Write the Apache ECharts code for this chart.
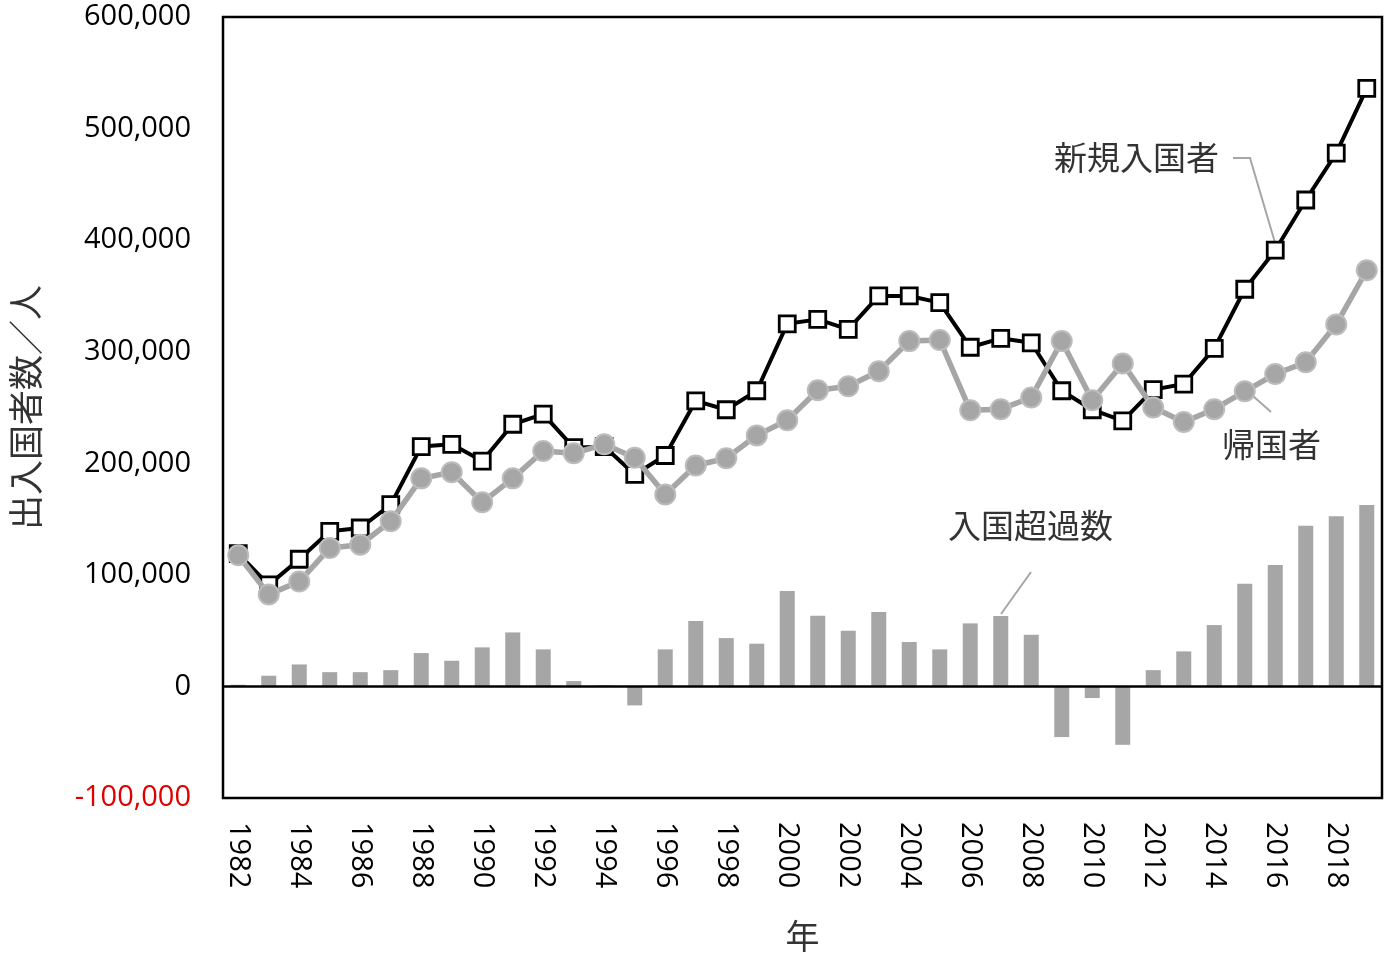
<!DOCTYPE html>
<html>
<head>
<meta charset="utf-8">
<script src="https://cdn.jsdelivr.net/npm/echarts@6/dist/echarts.min.js"></script>
<style>
html,body{margin:0;padding:0;background:#fff;}
#chart{width:1385px;height:965px;}
</style>
</head>
<body>
<div id="chart"></div>
<script>
const years = ['1982','1983','1984','1985','1986','1987','1988','1989','1990','1991','1992','1993','1994','1995','1996','1997','1998','1999','2000','2001','2002','2003','2004','2005','2006','2007','2008','2009','2010','2011','2012','2013','2014','2015','2016','2017','2018','2019'];
const newEntrants = [119000,91000,114000,139000,142000,163000,215000,217000,202000,235000,244000,214000,215000,190000,207000,256000,248000,265000,325000,329000,320000,350000,350000,344000,304000,312000,308000,265000,248000,238000,266000,271000,303000,356000,391000,436000,478000,536000];
const returnees = [117500,82500,94000,124000,127000,148000,186500,192000,165000,186500,211000,209000,217000,205000,172000,198000,204500,225000,238500,265500,269000,282500,309500,310500,247500,248500,259000,309500,256500,289500,250000,237000,248500,264500,280000,290500,324500,373000];
const netEntry = [1500,9600,19700,12800,12800,14600,29900,23000,35000,48400,33200,4800,1000,-17000,33200,58600,43300,38300,85500,63400,49900,66700,39800,33200,56500,63100,46300,-45400,-10400,-52300,14600,31400,55000,92100,108800,144100,152500,162600];
const yTicks = [-100000,0,100000,200000,300000,400000,500000,600000];

const numFont = '"Open Sans", "Liberation Sans", sans-serif';
const jpFont = '"Noto Sans CJK JP", sans-serif';

const chart = echarts.init(document.getElementById('chart'));
chart.setOption({
  backgroundColor: '#fff',
  animation: false,
  grid: {left: 220, right: 3, top: 17, bottom: 167, show: true, borderColor: '#000', borderWidth: 2.5, backgroundColor: 'transparent'},
  xAxis: {
    type: 'category',
    data: years,
    name: '年',
    nameLocation: 'middle',
    nameGap: 121,
    nameTextStyle: {fontFamily: jpFont, fontSize: 34, color: '#333'},
    axisLine: {onZero: false, show: false},
    axisTick: {show: false},
    axisLabel: {interval: 1, rotate: -90, margin: 24, fontFamily: numFont, fontSize: 29, color: '#000'}
  },
  yAxis: {
    type: 'value',
    min: yTicks[0],
    max: yTicks[yTicks.length - 1],
    interval: 100000,
    name: '出入国者数／人',
    nameLocation: 'middle',
    nameRotate: 90,
    nameGap: 180,
    nameTextStyle: {fontFamily: jpFont, fontSize: 35, color: '#333', letterSpacing: 2},
    axisLine: {show: false},
    axisTick: {show: false},
    splitLine: {show: false},
    axisLabel: {
      margin: 32,
      fontFamily: numFont,
      fontSize: 29,
      color: function (v) { return Number(v) < 0 ? '#e00000' : '#000'; },
      formatter: function (v) { return v < 0 ? '-' + Math.abs(v).toLocaleString('en-US') : v.toLocaleString('en-US'); }
    }
  },
  series: [
    {
      name: '入国超過数',
      type: 'bar',
      data: netEntry,
      barWidth: 15,
      itemStyle: {color: '#a6a6a6'},
      markLine: {
        silent: true,
        symbol: ['none', 'none'],
        label: {show: false},
        lineStyle: {color: '#000', width: 2.5, type: 'solid'},
        data: [{yAxis: 0}]
      },
      z: 1
    },
    {
      name: '新規入国者',
      type: 'line',
      data: newEntrants,
      symbol: 'rect',
      symbolSize: 16,
      lineStyle: {color: '#000', width: 4},
      itemStyle: {color: '#fff', borderColor: '#000', borderWidth: 2.8},
      z: 3
    },
    {
      name: '帰国者',
      type: 'line',
      data: returnees,
      symbol: 'circle',
      symbolSize: 20,
      lineStyle: {color: '#a6a6a6', width: 5.5},
      itemStyle: {color: '#a6a6a6', borderColor: '#bcbcbc', borderWidth: 2},
      z: 4
    }
  ],
  graphic: [
    {type: 'text', left: 1054, top: 141, style: {text: '新規入国者', font: '33px ' + jpFont, fill: '#333'}},
    {type: 'polyline', shape: {points: [[1233, 158], [1250, 158], [1276, 246]]}, style: {stroke: '#a6a6a6', lineWidth: 2, fill: null}},
    {type: 'text', left: 1222, top: 428, style: {text: '帰国者', font: '33px ' + jpFont, fill: '#333'}},
    {type: 'line', shape: {x1: 1253, y1: 396, x2: 1271, y2: 412}, style: {stroke: '#a6a6a6', lineWidth: 2}},
    {type: 'text', left: 948, top: 509, style: {text: '入国超過数', font: '33px ' + jpFont, fill: '#333'}},
    {type: 'line', shape: {x1: 1031, y1: 572, x2: 1001, y2: 614}, style: {stroke: '#a6a6a6', lineWidth: 2}}
  ]
});
</script>
</body>
</html>
